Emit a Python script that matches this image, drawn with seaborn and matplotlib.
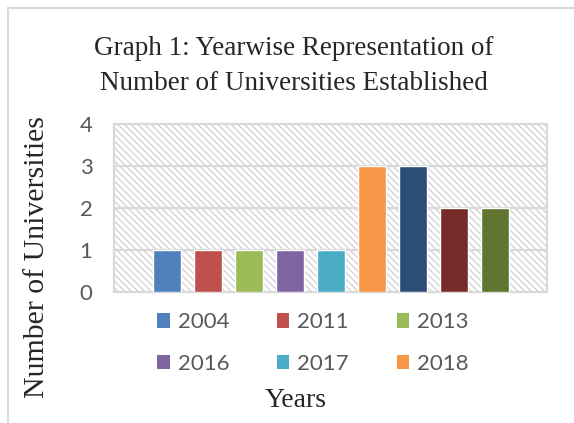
import matplotlib
matplotlib.use("Agg")
import matplotlib.pyplot as plt
import seaborn as sns
import pandas as pd
from matplotlib.patches import Rectangle, Patch

years = ["2004", "2011", "2013", "2016", "2017", "2018", "2019", "2020", "2021"]
counts = [1, 1, 1, 1, 1, 3, 3, 2, 2]
colors = ["#4F81BD", "#C0504D", "#9BBB59", "#8064A2", "#4BACC6",
          "#F79646", "#2C4D75", "#772C2A", "#5F7530"]
legend_years = years[:6]
yticks = [0, 1, 2, 3, 4]

df = pd.DataFrame({"Year": years, "Count": counts})

sns.set_theme(style="white")
plt.rcParams["hatch.linewidth"] = 1.0

W, H = 574, 423
fig = plt.figure(figsize=(W / 100, H / 100), dpi=100)
ax = fig.add_axes([114 / W, 1 - 292 / H, (547 - 114) / W, (292 - 124) / H])

# hatched plot area background
bg = Rectangle((0, 0), 1, 1, transform=ax.transAxes, facecolor="white",
               edgecolor="#d4d4d4", hatch="\\\\\\\\\\", linewidth=0, zorder=0)
ax.add_patch(bg)
ax.set_facecolor("white")

sns.barplot(data=df, x="Year", y="Count", hue="Year", order=years,
            hue_order=years, palette=colors, dodge=False, width=0.68,
            legend=False, ax=ax, zorder=3, saturation=1)

for y in [1, 2, 3]:
    ax.axhline(y, color="#d9d9d9", lw=1.6, zorder=1)

ax.set_xlim(-1.29, 9.27)
ax.set_ylim(0, 4)
ax.set_yticks(yticks)
ax.set_yticklabels([str(t) for t in yticks], fontsize=16, color="#595959",
                   family="Lato")
ax.tick_params(axis="y", length=0, pad=15.5)
ax.set_xticks([])
ax.set_xlabel("")
ax.set_ylabel("")
for s in ax.spines.values():
    s.set_color("#d9d9d9")
    s.set_linewidth(1.6)

# title
fig.text(294 / W, 1 - 55 / H, "Graph 1: Yearwise Representation of",
         ha="center", va="baseline", fontsize=19.5, family="Liberation Serif")
fig.text(294 / W, 1 - 90 / H, "Number of Universities Established",
         ha="center", va="baseline", fontsize=19.5, family="Liberation Serif")

# axis titles
fig.text(37 / W, 1 - 257 / H, "Number of Universities", rotation=90,
         ha="center", va="center", fontsize=21.5, family="Liberation Serif")
fig.text(296 / W, 1 - 400 / H, "Years", ha="center", va="center",
         fontsize=20, family="Liberation Serif")

# legend (only the visible entries), row-major order
order = [0, 3, 1, 4, 2, 5]
handles = [Patch(facecolor=colors[i], edgecolor="none") for i in order]
labels = [legend_years[i] for i in order]
leg = fig.legend(handles, labels, ncol=3, loc="center",
                 bbox_to_anchor=(313 / W, 1 - 343 / H), frameon=False,
                 prop={"family": "Lato", "size": 16}, labelcolor="#595959",
                 handlelength=0.55, handleheight=0.62, handletextpad=0.36,
                 columnspacing=2.15, labelspacing=0.95, borderpad=0)

# outer frame lines (top and left)
fig.add_artist(plt.Line2D([8 / W, 1], [1 - 8 / H, 1 - 8 / H],
                          transform=fig.transFigure, color="#d9d9d9", lw=1.5))
fig.add_artist(plt.Line2D([8 / W, 8 / W], [0, 1 - 8 / H],
                          transform=fig.transFigure, color="#d9d9d9", lw=1.5))

fig.savefig("out.png", dpi=100)
